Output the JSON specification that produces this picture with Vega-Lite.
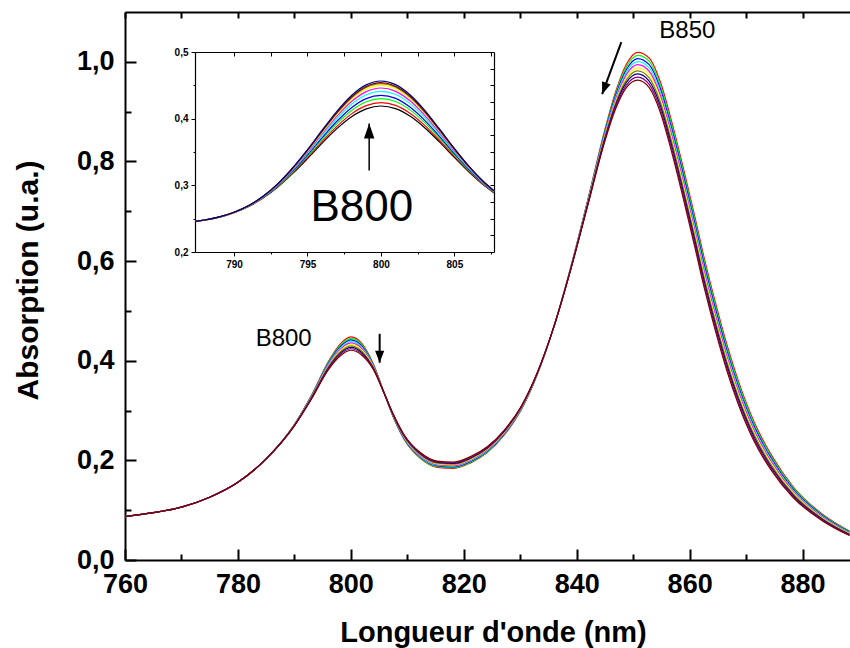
{
  "$schema": "https://vega.github.io/schema/vega-lite/v6.json",
  "width": 725,
  "height": 548,
  "autosize": "none",
  "padding": {"left": 125, "top": 12, "right": 0, "bottom": 88},
  "background": "white",
  "config": {
    "view": {"stroke": null},
    "font": "Liberation Sans",
    "axis": {"grid": false, "domainColor": "black", "tickColor": "black", "labelColor": "black", "titleColor": "black", "labelFont": "Liberation Sans", "titleFont": "Liberation Sans"}
  },
  "datasets": {
    "main": [
      {"x":760,"s0":0.087,"s1":0.087,"s2":0.087,"s3":0.087,"s4":0.087,"s5":0.087,"s6":0.087,"s7":0.087,"s8":0.087,"s9":0.087},
      {"x":765,"s0":0.095,"s1":0.095,"s2":0.095,"s3":0.095,"s4":0.095,"s5":0.095,"s6":0.095,"s7":0.095,"s8":0.095,"s9":0.095},
      {"x":770,"s0":0.106,"s1":0.106,"s2":0.106,"s3":0.106,"s4":0.106,"s5":0.106,"s6":0.106,"s7":0.106,"s8":0.106,"s9":0.106},
      {"x":775,"s0":0.126,"s1":0.126,"s2":0.126,"s3":0.126,"s4":0.126,"s5":0.126,"s6":0.126,"s7":0.126,"s8":0.126,"s9":0.126},
      {"x":780,"s0":0.156,"s1":0.156,"s2":0.156,"s3":0.156,"s4":0.156,"s5":0.156,"s6":0.156,"s7":0.156,"s8":0.156,"s9":0.156},
      {"x":785,"s0":0.203,"s1":0.203,"s2":0.203,"s3":0.203,"s4":0.203,"s5":0.203,"s6":0.203,"s7":0.203,"s8":0.203,"s9":0.203},
      {"x":790,"s0":0.272,"s1":0.2717,"s2":0.2714,"s3":0.2711,"s4":0.2708,"s5":0.2705,"s6":0.2702,"s7":0.2699,"s8":0.2696,"s9":0.2693},
      {"x":793,"s0":0.330,"s1":0.3292,"s2":0.3284,"s3":0.3276,"s4":0.3268,"s5":0.326,"s6":0.3252,"s7":0.3244,"s8":0.3236,"s9":0.3228},
      {"x":796,"s0":0.398,"s1":0.3962,"s2":0.3944,"s3":0.3926,"s4":0.3908,"s5":0.389,"s6":0.3872,"s7":0.3854,"s8":0.3836,"s9":0.3818},
      {"x":798,"s0":0.432,"s1":0.4294,"s2":0.4268,"s3":0.4242,"s4":0.4216,"s5":0.419,"s6":0.4164,"s7":0.4138,"s8":0.4112,"s9":0.4086},
      {"x":800,"s0":0.448,"s1":0.445,"s2":0.442,"s3":0.439,"s4":0.436,"s5":0.433,"s6":0.43,"s7":0.427,"s8":0.424,"s9":0.421},
      {"x":802,"s0":0.434,"s1":0.4314,"s2":0.4288,"s3":0.4262,"s4":0.4236,"s5":0.421,"s6":0.4184,"s7":0.4158,"s8":0.4132,"s9":0.4106},
      {"x":804,"s0":0.393,"s1":0.3918,"s2":0.3906,"s3":0.3894,"s4":0.3882,"s5":0.387,"s6":0.3858,"s7":0.3846,"s8":0.3834,"s9":0.3822},
      {"x":806,"s0":0.332,"s1":0.332,"s2":0.332,"s3":0.332,"s4":0.332,"s5":0.332,"s6":0.332,"s7":0.332,"s8":0.332,"s9":0.332},
      {"x":807.4,"s0":0.290,"s1":0.2906,"s2":0.2912,"s3":0.2918,"s4":0.2924,"s5":0.293,"s6":0.2936,"s7":0.2942,"s8":0.2948,"s9":0.2954},
      {"x":809.4,"s0":0.243,"s1":0.244,"s2":0.245,"s3":0.246,"s4":0.247,"s5":0.248,"s6":0.249,"s7":0.25,"s8":0.251,"s9":0.252},
      {"x":812.3,"s0":0.204,"s1":0.2053,"s2":0.2066,"s3":0.2079,"s4":0.2092,"s5":0.2105,"s6":0.2118,"s7":0.2131,"s8":0.2144,"s9":0.2157},
      {"x":815.3,"s0":0.186,"s1":0.1874,"s2":0.1888,"s3":0.1902,"s4":0.1916,"s5":0.193,"s6":0.1944,"s7":0.1958,"s8":0.1972,"s9":0.1986},
      {"x":818.2,"s0":0.184,"s1":0.1854,"s2":0.1868,"s3":0.1882,"s4":0.1896,"s5":0.191,"s6":0.1924,"s7":0.1938,"s8":0.1952,"s9":0.1966},
      {"x":821.2,"s0":0.195,"s1":0.1964,"s2":0.1978,"s3":0.1992,"s4":0.2006,"s5":0.202,"s6":0.2034,"s7":0.2048,"s8":0.2062,"s9":0.2076},
      {"x":824.2,"s0":0.216,"s1":0.2173,"s2":0.2186,"s3":0.2199,"s4":0.2212,"s5":0.2225,"s6":0.2238,"s7":0.2251,"s8":0.2264,"s9":0.2277},
      {"x":827.1,"s0":0.250,"s1":0.2511,"s2":0.2522,"s3":0.2533,"s4":0.2544,"s5":0.2555,"s6":0.2566,"s7":0.2577,"s8":0.2588,"s9":0.2599},
      {"x":830.1,"s0":0.300,"s1":0.3008,"s2":0.3016,"s3":0.3024,"s4":0.3032,"s5":0.304,"s6":0.3048,"s7":0.3056,"s8":0.3064,"s9":0.3072},
      {"x":833.0,"s0":0.372,"s1":0.3724,"s2":0.3728,"s3":0.3732,"s4":0.3736,"s5":0.374,"s6":0.3744,"s7":0.3748,"s8":0.3752,"s9":0.3756},
      {"x":836.0,"s0":0.470,"s1":0.470,"s2":0.470,"s3":0.470,"s4":0.470,"s5":0.470,"s6":0.470,"s7":0.470,"s8":0.470,"s9":0.470},
      {"x":839.0,"s0":0.590,"s1":0.5895,"s2":0.589,"s3":0.5885,"s4":0.588,"s5":0.5875,"s6":0.587,"s7":0.5865,"s8":0.586,"s9":0.5855},
      {"x":841.9,"s0":0.720,"s1":0.7188,"s2":0.7176,"s3":0.7164,"s4":0.7152,"s5":0.714,"s6":0.7128,"s7":0.7116,"s8":0.7104,"s9":0.7092},
      {"x":844.9,"s0":0.860,"s1":0.8575,"s2":0.855,"s3":0.8525,"s4":0.85,"s5":0.8475,"s6":0.845,"s7":0.8425,"s8":0.84,"s9":0.8375},
      {"x":846.9,"s0":0.940,"s1":0.9362,"s2":0.9324,"s3":0.9286,"s4":0.9248,"s5":0.921,"s6":0.9172,"s7":0.9134,"s8":0.9096,"s9":0.9058},
      {"x":848.8,"s0":0.995,"s1":0.9898,"s2":0.9846,"s3":0.9794,"s4":0.9742,"s5":0.969,"s6":0.9638,"s7":0.9586,"s8":0.9534,"s9":0.9482},
      {"x":850.8,"s0":1.019,"s1":1.0128,"s2":1.0066,"s3":1.0004,"s4":0.9942,"s5":0.988,"s6":0.9818,"s7":0.9756,"s8":0.9694,"s9":0.9632},
      {"x":852.8,"s0":1.008,"s1":1.0014,"s2":0.9948,"s3":0.9882,"s4":0.9816,"s5":0.975,"s6":0.9684,"s7":0.9618,"s8":0.9552,"s9":0.9486},
      {"x":854.8,"s0":0.960,"s1":0.9532,"s2":0.9464,"s3":0.9396,"s4":0.9328,"s5":0.926,"s6":0.9192,"s7":0.9124,"s8":0.9056,"s9":0.8988},
      {"x":856.7,"s0":0.885,"s1":0.8782,"s2":0.8714,"s3":0.8646,"s4":0.8578,"s5":0.851,"s6":0.8442,"s7":0.8374,"s8":0.8306,"s9":0.8238},
      {"x":858.7,"s0":0.795,"s1":0.7882,"s2":0.7814,"s3":0.7746,"s4":0.7678,"s5":0.761,"s6":0.7542,"s7":0.7474,"s8":0.7406,"s9":0.7338},
      {"x":860.7,"s0":0.700,"s1":0.6932,"s2":0.6864,"s3":0.6796,"s4":0.6728,"s5":0.666,"s6":0.6592,"s7":0.6524,"s8":0.6456,"s9":0.6388},
      {"x":862.6,"s0":0.605,"s1":0.5984,"s2":0.5918,"s3":0.5852,"s4":0.5786,"s5":0.572,"s6":0.5654,"s7":0.5588,"s8":0.5522,"s9":0.5456},
      {"x":864.6,"s0":0.515,"s1":0.5087,"s2":0.5024,"s3":0.4961,"s4":0.4898,"s5":0.4835,"s6":0.4772,"s7":0.4709,"s8":0.4646,"s9":0.4583},
      {"x":866.6,"s0":0.432,"s1":0.4262,"s2":0.4204,"s3":0.4146,"s4":0.4088,"s5":0.403,"s6":0.3972,"s7":0.3914,"s8":0.3856,"s9":0.3798},
      {"x":868.6,"s0":0.360,"s1":0.3548,"s2":0.3496,"s3":0.3444,"s4":0.3392,"s5":0.334,"s6":0.3288,"s7":0.3236,"s8":0.3184,"s9":0.3132},
      {"x":871.5,"s0":0.275,"s1":0.2707,"s2":0.2664,"s3":0.2621,"s4":0.2578,"s5":0.2535,"s6":0.2492,"s7":0.2449,"s8":0.2406,"s9":0.2363},
      {"x":874.5,"s0":0.210,"s1":0.2066,"s2":0.2032,"s3":0.1998,"s4":0.1964,"s5":0.193,"s6":0.1896,"s7":0.1862,"s8":0.1828,"s9":0.1794},
      {"x":878.4,"s0":0.146,"s1":0.1436,"s2":0.1412,"s3":0.1388,"s4":0.1364,"s5":0.134,"s6":0.1316,"s7":0.1292,"s8":0.1268,"s9":0.1244},
      {"x":883.4,"s0":0.093,"s1":0.0915,"s2":0.09,"s3":0.0885,"s4":0.087,"s5":0.0855,"s6":0.084,"s7":0.0825,"s8":0.081,"s9":0.0795},
      {"x":888.3,"s0":0.058,"s1":0.057,"s2":0.056,"s3":0.055,"s4":0.054,"s5":0.053,"s6":0.052,"s7":0.051,"s8":0.05,"s9":0.049}
    ],
    "inset": [
      {"x":787.34,"i0":0.2459,"i1":0.2459,"i2":0.2459,"i3":0.2459,"i4":0.2459,"i5":0.2459,"i6":0.2459,"i7":0.2459,"i8":0.2459,"i9":0.246},
      {"x":788,"i0":0.2479,"i1":0.2479,"i2":0.2479,"i3":0.2479,"i4":0.2479,"i5":0.2479,"i6":0.2479,"i7":0.248,"i8":0.248,"i9":0.248},
      {"x":789,"i0":0.2523,"i1":0.2523,"i2":0.2524,"i3":0.2524,"i4":0.2525,"i5":0.2525,"i6":0.2525,"i7":0.2525,"i8":0.2526,"i9":0.2526},
      {"x":790,"i0":0.259,"i1":0.2591,"i2":0.2592,"i3":0.2593,"i4":0.2594,"i5":0.2595,"i6":0.2595,"i7":0.2596,"i8":0.2596,"i9":0.2596},
      {"x":791,"i0":0.2684,"i1":0.2686,"i2":0.2688,"i3":0.269,"i4":0.2692,"i5":0.2694,"i6":0.2695,"i7":0.2696,"i8":0.2697,"i9":0.2698},
      {"x":792,"i0":0.2813,"i1":0.2817,"i2":0.2821,"i3":0.2825,"i4":0.2829,"i5":0.2833,"i6":0.2836,"i7":0.2838,"i8":0.2839,"i9":0.2841},
      {"x":793,"i0":0.2979,"i1":0.2986,"i2":0.2994,"i3":0.3001,"i4":0.3009,"i5":0.3016,"i6":0.3021,"i7":0.3024,"i8":0.3026,"i9":0.303},
      {"x":794,"i0":0.3179,"i1":0.3191,"i2":0.3204,"i3":0.3216,"i4":0.323,"i5":0.3241,"i6":0.325,"i7":0.3256,"i8":0.326,"i9":0.3265},
      {"x":795,"i0":0.3401,"i1":0.3419,"i2":0.3441,"i3":0.3459,"i4":0.348,"i5":0.3498,"i6":0.3513,"i7":0.3522,"i8":0.3527,"i9":0.3536},
      {"x":796,"i0":0.3633,"i1":0.3659,"i2":0.369,"i3":0.3716,"i4":0.3748,"i5":0.3774,"i6":0.3794,"i7":0.3807,"i8":0.3815,"i9":0.3828},
      {"x":797,"i0":0.385,"i1":0.3885,"i2":0.3926,"i3":0.3961,"i4":0.4002,"i5":0.4037,"i6":0.4065,"i7":0.4082,"i8":0.4092,"i9":0.411},
      {"x":798,"i0":0.4029,"i1":0.4072,"i2":0.4122,"i3":0.4165,"i4":0.4216,"i5":0.4258,"i6":0.4292,"i7":0.4314,"i8":0.4326,"i9":0.4348},
      {"x":799,"i0":0.4147,"i1":0.4195,"i2":0.4253,"i3":0.4301,"i4":0.4358,"i5":0.4406,"i6":0.4445,"i7":0.4469,"i8":0.4483,"i9":0.4507},
      {"x":800,"i0":0.419,"i1":0.424,"i2":0.43,"i3":0.435,"i4":0.441,"i5":0.446,"i6":0.45,"i7":0.4525,"i8":0.454,"i9":0.4565},
      {"x":801,"i0":0.4151,"i1":0.4199,"i2":0.4257,"i3":0.4305,"i4":0.4362,"i5":0.441,"i6":0.4449,"i7":0.4473,"i8":0.4487,"i9":0.4511},
      {"x":802,"i0":0.4035,"i1":0.4078,"i2":0.4128,"i3":0.4171,"i4":0.4222,"i5":0.4264,"i6":0.4298,"i7":0.432,"i8":0.4332,"i9":0.4354},
      {"x":803,"i0":0.386,"i1":0.3895,"i2":0.3936,"i3":0.3971,"i4":0.4012,"i5":0.4047,"i6":0.4075,"i7":0.4092,"i8":0.4102,"i9":0.412},
      {"x":804,"i0":0.3647,"i1":0.3673,"i2":0.3704,"i3":0.373,"i4":0.3762,"i5":0.3788,"i6":0.3808,"i7":0.3821,"i8":0.3829,"i9":0.3842},
      {"x":805,"i0":0.3419,"i1":0.3437,"i2":0.3459,"i3":0.3477,"i4":0.3498,"i5":0.3516,"i6":0.3531,"i7":0.354,"i8":0.3545,"i9":0.3554},
      {"x":806,"i0":0.3199,"i1":0.3211,"i2":0.3224,"i3":0.3236,"i4":0.325,"i5":0.3261,"i6":0.327,"i7":0.3276,"i8":0.328,"i9":0.3285},
      {"x":807,"i0":0.3003,"i1":0.301,"i2":0.3018,"i3":0.3025,"i4":0.3033,"i5":0.304,"i6":0.3045,"i7":0.3048,"i8":0.305,"i9":0.3054},
      {"x":807.7,"i0":0.2886,"i1":0.2891,"i2":0.2896,"i3":0.29,"i4":0.2906,"i5":0.291,"i6":0.2914,"i7":0.2916,"i8":0.2917,"i9":0.2919}
    ],
    "mainLabels": [
      {"x":788.1,"y":0.444,"label":"B800"},
      {"x":859.6,"y":1.062,"label":"B850"}
    ],
    "mainArrows": [
      {"x":805.1,"y":0.454,"x2":805.1,"y2":0.396,"angle":180},
      {"x":847.9,"y":1.0396,"x2":844.5,"y2":0.935,"angle":200.5}
    ],
    "insetLabel": [{"x":798.7,"y":0.266,"label":"B800"}],
    "insetArrow": [{"x":799.2,"y":0.3222,"x2":799.2,"y2":0.3928,"angle":0}]
  },
  "layer": [
    {
      "data": {"name": "main"},
      "transform": [{"fold": ["s0","s1","s2","s3","s4","s5","s6","s7","s8","s9"], "as": ["series","v"]}],
      "mark": {"type": "line", "strokeWidth": 1.2, "interpolate": "monotone"},
      "encoding": {
        "x": {"field": "x", "type": "quantitative", "scale": {"domain": [760, 888.4], "nice": false, "zero": false},
          "axis": {"orient": "bottom", "values": [760,780,800,820,840,860,880], "tickSize": -11, "tickWidth": 2, "domainWidth": 2, "labelFontSize": 27, "labelFontWeight": "bold", "labelPadding": 22, "labelFlush": false, "format": "d",
            "title": "Longueur d'onde (nm)", "titleFontSize": 29, "titleFontWeight": "bold", "titlePadding": 21, "titleX": 368}},
        "y": {"field": "v", "type": "quantitative", "scale": {"domain": [0, 1.1], "nice": false, "zero": false},
          "axis": {"orient": "left", "values": [0,0.2,0.4,0.6,0.8,1.0], "tickSize": -11, "tickWidth": 2, "domainWidth": 2, "labelFontSize": 27, "labelFontWeight": "bold", "labelPadding": 22, "labelFlush": false,
            "labelExpr": "replace(format(datum.value, '.1f'), '.', ',')",
            "title": "Absorption (u.a.)", "titleFontSize": 30, "titleFontWeight": "bold", "titleX": -97, "titleY": 268, "titleBaseline": "middle", "titleAlign": "center", "titleAngle": -90}},
        "color": {"field": "series", "type": "nominal", "legend": null,
          "scale": {"domain": ["s0","s1","s2","s3","s4","s5","s6","s7","s8","s9"],
            "range": ["#FF0000","#00FF00","#0000FF","#00FFFF","#FF00FF","#FFFF00","#808000","#000080","#800080","#800000"]}}
      }
    },
    {
      "data": {"name": "mainLabels"},
      "mark": {"type": "text", "fontSize": 24, "font": "Liberation Sans", "color": "black", "align": "center", "baseline": "middle"},
      "encoding": {
        "x": {"field": "x", "type": "quantitative", "scale": {"domain": [760, 888.4], "nice": false, "zero": false},
          "axis": {"orient": "bottom", "values": [770,790,810,830,850,870], "tickSize": -6, "tickWidth": 2, "domain": false, "labels": false, "title": null}},
        "y": {"field": "y", "type": "quantitative", "scale": {"domain": [0, 1.1], "nice": false, "zero": false},
          "axis": {"orient": "left", "values": [0.1,0.3,0.5,0.7,0.9], "tickSize": -6, "tickWidth": 2, "domain": false, "labels": false, "title": null}},
        "text": {"field": "label"}
      }
    },
    {
      "data": {"name": "mainArrows"},
      "mark": {"type": "rule", "strokeWidth": 2, "color": "black"},
      "encoding": {
        "x": {"field": "x", "type": "quantitative", "scale": {"domain": [760, 888.4], "nice": false, "zero": false},
          "axis": {"orient": "top", "values": [760,770,780,790,800,810,820,830,840,850,860,870,880], "tickSize": -6, "tickWidth": 2, "domainWidth": 2, "labels": false, "title": null}},
        "y": {"field": "y", "type": "quantitative", "scale": {"domain": [0, 1.1], "nice": false, "zero": false}, "axis": null},
        "x2": {"field": "x2"},
        "y2": {"field": "y2"}
      }
    },
    {
      "data": {"name": "mainArrows"},
      "mark": {"type": "point", "shape": "M0,0L-0.38,1L0.38,1Z", "filled": true, "color": "black", "opacity": 1, "size": 576},
      "encoding": {
        "x": {"field": "x2", "type": "quantitative", "scale": {"domain": [760, 888.4], "nice": false, "zero": false}, "axis": null},
        "y": {"field": "y2", "type": "quantitative", "scale": {"domain": [0, 1.1], "nice": false, "zero": false}, "axis": null},
        "angle": {"field": "angle", "type": "quantitative", "scale": null}
      }
    },
    {
      "data": {"name": "inset"},
      "transform": [{"fold": ["i0","i1","i2","i3","i4","i5","i6","i7","i8","i9"], "as": ["series","v"]}],
      "mark": {"type": "line", "strokeWidth": 1.2, "interpolate": "monotone"},
      "encoding": {
        "x": {"field": "x", "type": "quantitative", "scale": {"domain": [787.34, 807.7], "range": [70, 369], "nice": false, "zero": false},
          "axis": {"orient": "bottom", "offset": -308, "values": [790,795,800,805], "tickSize": 4, "tickWidth": 1, "domainWidth": 1.2, "labelFontSize": 10, "labelFontWeight": "bold", "labelPadding": 3, "labelFlush": false, "format": "d", "title": null}},
        "y": {"field": "v", "type": "quantitative", "scale": {"domain": [0.2, 0.5], "range": [240, 40], "nice": false, "zero": false},
          "axis": {"orient": "left", "offset": -70, "values": [0.2,0.3,0.4,0.5], "tickSize": 4, "tickWidth": 1, "domainWidth": 1.2, "labelFontSize": 10, "labelFontWeight": "bold", "labelPadding": 3, "labelFlush": false,
            "labelExpr": "replace(format(datum.value, '.1f'), '.', ',')", "title": null}},
        "color": {"field": "series", "type": "nominal", "legend": null,
          "scale": {"domain": ["i0","i1","i2","i3","i4","i5","i6","i7","i8","i9"],
            "range": ["#000000","#FF0000","#00FF00","#0000FF","#00FFFF","#FF00FF","#FFFF00","#808000","#800000","#000080"]}}
      }
    },
    {
      "data": {"name": "insetLabel"},
      "mark": {"type": "text", "fontSize": 44, "font": "Liberation Sans", "color": "black", "align": "center", "baseline": "middle"},
      "encoding": {
        "x": {"field": "x", "type": "quantitative", "scale": {"domain": [787.34, 807.7], "range": [70, 369], "nice": false, "zero": false},
          "axis": {"orient": "top", "offset": -40, "values": [790,792.5,795,797.5,800,802.5,805,807.5], "tickSize": -4, "tickWidth": 1, "domainWidth": 1.2, "labels": false, "title": null}},
        "y": {"field": "y", "type": "quantitative", "scale": {"domain": [0.2, 0.5], "range": [240, 40], "nice": false, "zero": false},
          "axis": {"orient": "right", "offset": -356, "values": [0.225,0.25,0.275,0.3,0.325,0.35,0.375,0.4,0.425,0.45,0.475], "tickSize": -4, "tickWidth": 1, "domainWidth": 1.2, "labels": false, "title": null}},
        "text": {"field": "label"}
      }
    },
    {
      "data": {"name": "insetArrow"},
      "mark": {"type": "rule", "strokeWidth": 1.5, "color": "black"},
      "encoding": {
        "x": {"field": "x", "type": "quantitative", "scale": {"domain": [787.34, 807.7], "range": [70, 369], "nice": false, "zero": false},
          "axis": {"orient": "bottom", "offset": -308, "values": [792.5,797.5,802.5,807.5], "tickSize": 2, "tickWidth": 1, "domain": false, "labels": false, "title": null}},
        "y": {"field": "y", "type": "quantitative", "scale": {"domain": [0.2, 0.5], "range": [240, 40], "nice": false, "zero": false},
          "axis": {"orient": "left", "offset": -70, "values": [0.25,0.35,0.45], "tickSize": 2, "tickWidth": 1, "domain": false, "labels": false, "title": null}},
        "x2": {"field": "x2"},
        "y2": {"field": "y2"}
      }
    },
    {
      "data": {"name": "insetArrow"},
      "mark": {"type": "point", "shape": "M0,0L-0.35,1L0.35,1Z", "filled": true, "color": "black", "opacity": 1, "size": 900},
      "encoding": {
        "x": {"field": "x2", "type": "quantitative", "scale": {"domain": [787.34, 807.7], "range": [70, 369], "nice": false, "zero": false}, "axis": null},
        "y": {"field": "y2", "type": "quantitative", "scale": {"domain": [0.2, 0.5], "range": [240, 40], "nice": false, "zero": false}, "axis": null},
        "angle": {"field": "angle", "type": "quantitative", "scale": null}
      }
    }
  ],
  "resolve": {
    "scale": {"x": "independent", "y": "independent", "color": "independent", "angle": "independent"},
    "axis": {"x": "independent", "y": "independent"}
  }
}
